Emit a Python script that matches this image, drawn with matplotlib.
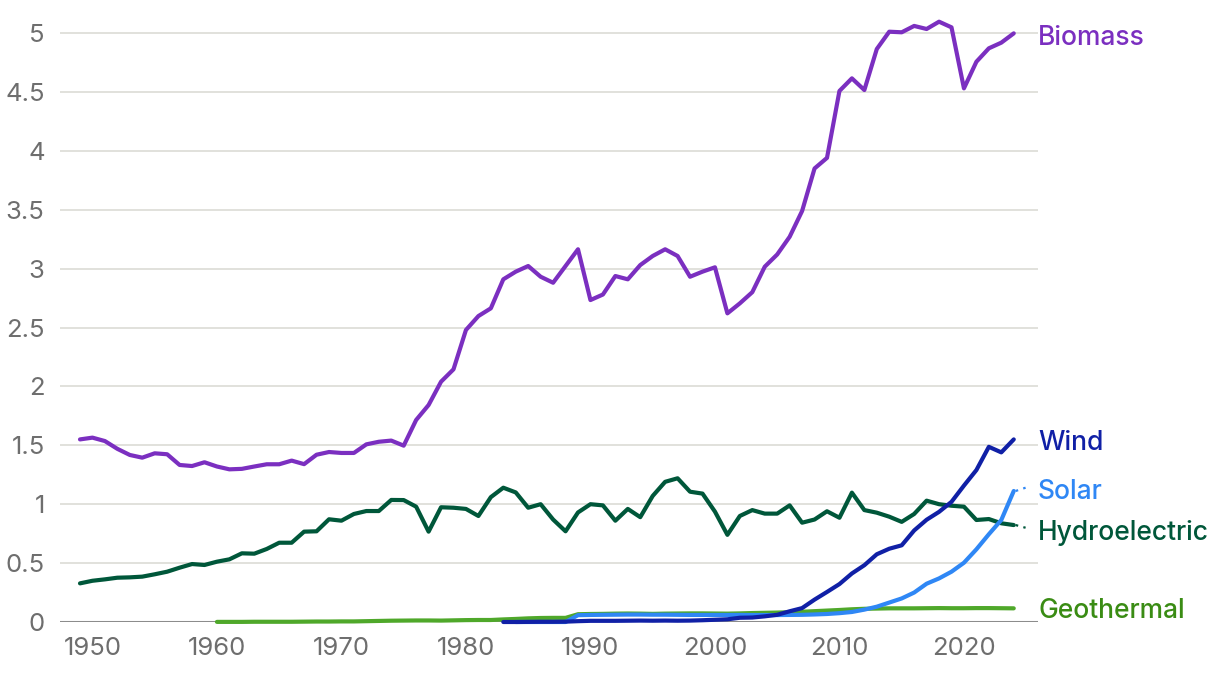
import numpy as np
import matplotlib
matplotlib.use("Agg")
import matplotlib.pyplot as plt

# ---- data (quadrillion Btu) ----
years_all = list(range(1949, 2025))
biomass = [1.55, 1.565, 1.536, 1.47, 1.418, 1.395, 1.432, 1.424, 1.333, 1.324,
           1.356, 1.32, 1.296, 1.30, 1.32, 1.339, 1.339, 1.37, 1.34, 1.42,
           1.443, 1.435, 1.435, 1.508, 1.53, 1.54, 1.497, 1.715, 1.842, 2.04,
           2.145, 2.479, 2.597, 2.663, 2.909, 2.974, 3.022, 2.931, 2.88, 3.022,
           3.164, 2.733, 2.78, 2.937, 2.909, 3.03, 3.107, 3.164, 3.107, 2.931,
           2.974, 3.011, 2.62, 2.705, 2.80, 3.016, 3.12, 3.27, 3.489, 3.85,
           3.94, 4.508, 4.615, 4.516, 4.864, 5.011, 5.006, 5.06, 5.034, 5.096,
           5.048, 4.53, 4.756, 4.87, 4.918, 4.997]
hydro = [0.328, 0.35, 0.362, 0.376, 0.379, 0.385, 0.405, 0.427, 0.461, 0.492,
         0.484, 0.512, 0.532, 0.583, 0.58, 0.62, 0.673, 0.673, 0.767, 0.77,
         0.872, 0.86, 0.917, 0.942, 0.942, 1.036, 1.035, 0.979, 0.767, 0.974,
         0.97, 0.96, 0.90, 1.06, 1.14, 1.10, 0.97, 1.00, 0.87, 0.77,
         0.93, 1.00, 0.99, 0.86, 0.96, 0.89, 1.07, 1.19, 1.22, 1.106,
         1.09, 0.937, 0.74, 0.90, 0.95, 0.92, 0.92, 0.99, 0.843, 0.87,
         0.94, 0.885, 1.098, 0.95, 0.928, 0.894, 0.85, 0.917, 1.03, 1.0,
         0.987, 0.979, 0.866, 0.874, 0.838, 0.823]
years_wind = list(range(1983, 2025))
wind = [0.0, 0.0, 0.001, 0.002, 0.002, 0.003, 0.007, 0.01, 0.01, 0.01,
        0.011, 0.012, 0.011, 0.012, 0.011, 0.012, 0.015, 0.019, 0.023, 0.036,
        0.038, 0.048, 0.061, 0.091, 0.118, 0.19, 0.255, 0.322, 0.412, 0.482,
        0.575, 0.622, 0.651, 0.777, 0.868, 0.935, 1.02, 1.158, 1.29, 1.487,
        1.44, 1.55]
years_solar = list(range(1984, 2025))
solar = [0.0, 0.0, 0.0, 0.0, 0.0, 0.058, 0.060, 0.061, 0.062, 0.063,
         0.063, 0.062, 0.062, 0.061, 0.060, 0.060, 0.060, 0.060, 0.060, 0.059,
         0.059, 0.059, 0.060, 0.061, 0.064, 0.068, 0.075, 0.085, 0.105, 0.13,
         0.165, 0.2, 0.25, 0.325, 0.37, 0.427, 0.503, 0.617, 0.745, 0.866,
         1.112]
years_geo = list(range(1960, 2025))
geothermal = [0.001, 0.001, 0.001, 0.002, 0.002, 0.002, 0.002, 0.003, 0.004, 0.004,
              0.005, 0.005, 0.007, 0.009, 0.011, 0.012, 0.013, 0.013, 0.012, 0.014,
              0.016, 0.017, 0.017, 0.022, 0.026, 0.031, 0.034, 0.035, 0.035, 0.066,
              0.068, 0.069, 0.071, 0.072, 0.071, 0.069, 0.071, 0.072, 0.073, 0.073,
              0.072, 0.071, 0.073, 0.076, 0.078, 0.080, 0.083, 0.087, 0.092, 0.097,
              0.102, 0.108, 0.112, 0.114, 0.116, 0.116, 0.116, 0.117, 0.118, 0.117,
              0.117, 0.118, 0.118, 0.117, 0.116]

series_names = ["Biomass", "Wind", "Solar", "Hydroelectric", "Geothermal"]
x_ticks = [1950, 1960, 1970, 1980, 1990, 2000, 2010, 2020]
y_ticks = [0, 0.5, 1, 1.5, 2, 2.5, 3, 3.5, 4, 4.5, 5]

# ---- style ----
line_colors = {"Biomass": "#7B2FC0", "Wind": "#1020A6", "Solar": "#2F87F5",
               "Hydroelectric": "#00573A", "Geothermal": "#4FA82A"}
label_colors = {"Biomass": "#7B2FC0", "Wind": "#1020A6", "Solar": "#2F87F5",
                "Hydroelectric": "#00573A", "Geothermal": "#3A8C14"}
label_y = {"Biomass": 4.955, "Wind": 1.52, "Solar": 1.105,
           "Hydroelectric": 0.755, "Geothermal": 0.095}
# end points of the short dotted connectors (in data units)
connector_y = {"Solar": 1.14, "Hydroelectric": 0.80}

plt.rcParams['font.family'] = ['Inter', 'DejaVu Sans']

W, H = 1220, 676
fig = plt.figure(figsize=(W / 100, H / 100), dpi=100)
x0_px, x1_px = 60, 1038
y0_px = 622
ppu = 117.8
ymax = 5.25
ax = fig.add_axes([x0_px / W, (H - y0_px) / H, (x1_px - x0_px) / W, ymax * ppu / H])

ppy = 12.45
xl = 1949 - (80 - x0_px) / ppy
xr = 1949 + (x1_px - 80) / ppy
ax.set_xlim(xl, xr)
ax.set_ylim(0, ymax)

for s in ax.spines.values():
    s.set_visible(False)
ax.set_yticks(y_ticks)
ax.set_yticklabels([f"{v:g}" for v in y_ticks])
ax.set_xticks(x_ticks)
ax.tick_params(axis='both', length=0, labelsize=18.5, colors="#6E6E6E")
ax.tick_params(axis='y', pad=11)
ax.tick_params(axis='x', pad=11)
ax.grid(axis='y', color="#DCDCD6", linewidth=1.2)
ax.grid(axis='x', visible=False)
ax.set_axisbelow(True)
ax.axhline(0, color="#8C8C8C", linewidth=2.2, zorder=1)

lw = 3.0
data = {
    "Geothermal": (years_geo, geothermal),
    "Hydroelectric": (years_all, hydro),
    "Solar": (years_solar, solar),
    "Wind": (years_wind, wind),
    "Biomass": (years_all, biomass),
}
for z, name in enumerate(["Geothermal", "Hydroelectric", "Solar", "Wind", "Biomass"]):
    xs, ys = data[name]
    ax.plot(xs, ys, color=line_colors[name], linewidth=lw, zorder=3 + z,
            solid_joinstyle='round', solid_capstyle='round', clip_on=False)

for name in series_names:
    xs, ys = data[name]
    ly = label_y[name]
    if name in connector_y:
        ax.plot([xs[-1] + 0.15, xs[-1] + 0.95], [ys[-1], connector_y[name]],
                color=line_colors[name], linewidth=1.6,
                linestyle=(0, (1.2, 2.4)), clip_on=False, zorder=3)
    ax.text(xr, ly, name, color=label_colors[name], fontsize=19,
            fontweight='medium', va='center', ha='left', clip_on=False)

fig.savefig("out.png", dpi=100)
